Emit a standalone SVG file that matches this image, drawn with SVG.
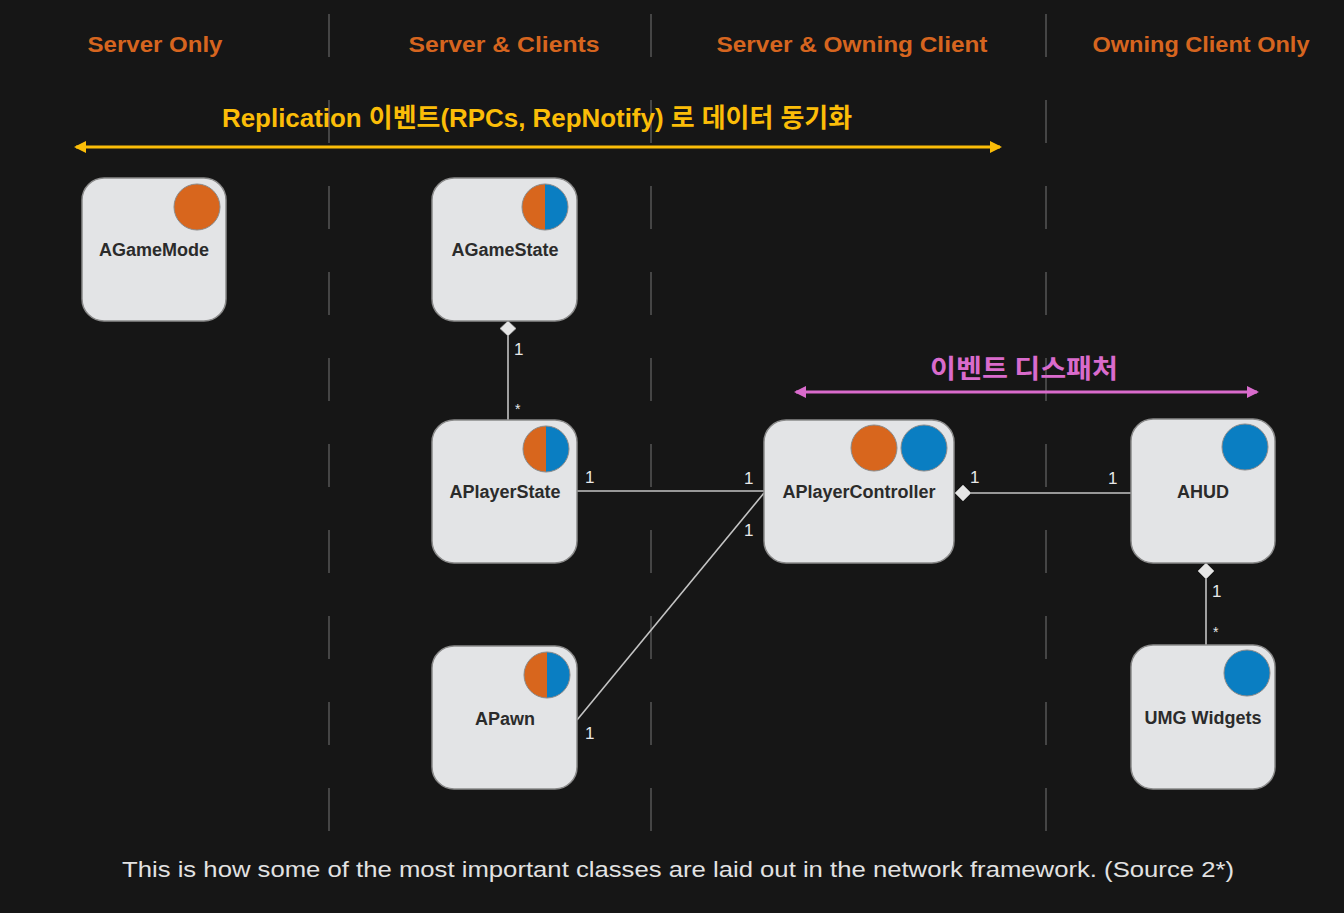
<svg xmlns="http://www.w3.org/2000/svg" width="1344" height="913" viewBox="0 0 1344 913">
<style>
.hdr{font-family:"Liberation Sans",Arial,sans-serif;font-size:22px;font-weight:bold;fill:#d6651f;text-anchor:middle}
.node rect{fill:#e3e4e6;stroke:#8a8a8a;stroke-width:1.5}
.name{font-family:"Liberation Sans",Arial,sans-serif;font-size:18px;font-weight:bold;fill:#2b2b2b;text-anchor:middle}
.conn{stroke:#c4c4c4;stroke-width:1.6;fill:none}
.mult{font-family:"Liberation Sans",Arial,sans-serif;font-size:17px;fill:#e8e8e8}
.star{font-family:"Liberation Sans",Arial,sans-serif;font-size:14px;fill:#e8e8e8}
.dia{fill:#e6e6e6;stroke:#b0b0b0;stroke-width:0.8}
.lane{stroke:#454545;stroke-width:2;stroke-dasharray:43 43}
.or{fill:#d8661d}
.bl{fill:#0a7ec2}
</style>
<defs>
<marker id="ay" viewBox="0 0 12 12" refX="10" refY="6" markerWidth="12" markerHeight="12" markerUnits="userSpaceOnUse" orient="auto-start-reverse"><path d="M0,0 L12,6 L0,12 Z" fill="#fbbd08"/></marker>
<marker id="ap" viewBox="0 0 12 12" refX="10" refY="6" markerWidth="12" markerHeight="12" markerUnits="userSpaceOnUse" orient="auto-start-reverse"><path d="M0,0 L12,6 L0,12 Z" fill="#d96bcc"/></marker>
</defs>
<rect width="1344" height="913" fill="#161616"/>
<g id="lanes">
<line class="lane" x1="329" y1="14" x2="329" y2="832"/>
<line class="lane" x1="651" y1="14" x2="651" y2="832"/>
<line class="lane" x1="1046" y1="14" x2="1046" y2="832"/>
</g>
<g id="headers">
<text class="hdr" x="155" y="52" textLength="135" lengthAdjust="spacingAndGlyphs">Server Only</text>
<text class="hdr" x="504" y="52" textLength="191" lengthAdjust="spacingAndGlyphs">Server &amp; Clients</text>
<text class="hdr" x="852" y="52" textLength="271" lengthAdjust="spacingAndGlyphs">Server &amp; Owning Client</text>
<text class="hdr" x="1201" y="52" textLength="217" lengthAdjust="spacingAndGlyphs">Owning Client Only</text>
</g>
<g id="replication">
<text x="537" y="127" font-family="'Liberation Sans','Noto Sans CJK KR',sans-serif" font-size="26" font-weight="bold" fill="#fbbd08" text-anchor="middle" textLength="630" lengthAdjust="spacingAndGlyphs">Replication 이벤트(RPCs, RepNotify) 로 데이터 동기화</text>
<line x1="76" y1="147" x2="1000" y2="147" stroke="#fbbd08" stroke-width="3" marker-start="url(#ay)" marker-end="url(#ay)"/>
</g>
<g id="dispatch">
<text x="1024" y="378" font-family="'Noto Sans CJK KR',sans-serif" font-size="26" font-weight="bold" fill="#d96bcc" text-anchor="middle" textLength="188" lengthAdjust="spacingAndGlyphs">이벤트 디스패처</text>
<line x1="796" y1="392" x2="1257" y2="392" stroke="#d96bcc" stroke-width="3" marker-start="url(#ap)" marker-end="url(#ap)"/>
</g>
<g id="connectors">
<line class="conn" x1="508" y1="336" x2="508" y2="420"/>
<path class="dia" d="M508,321 L516,328.5 L508,336 L500,328.5 Z"/>
<line class="conn" x1="577" y1="491" x2="764" y2="491"/>
<line class="conn" x1="577" y1="720" x2="764" y2="493"/>
<line class="conn" x1="971" y1="493" x2="1131" y2="493"/>
<path class="dia" d="M955,493 L963,485 L971,493 L963,501 Z"/>
<line class="conn" x1="1206" y1="579" x2="1206" y2="645"/>
<path class="dia" d="M1206,563 L1214,571 L1206,579 L1198,571 Z"/>
<text class="mult" x="514" y="355">1</text>
<text class="star" x="515" y="414">*</text>
<text class="mult" x="585" y="483">1</text>
<text class="mult" x="744" y="484">1</text>
<text class="mult" x="744" y="536">1</text>
<text class="mult" x="585" y="739">1</text>
<text class="mult" x="970" y="483">1</text>
<text class="mult" x="1108" y="484">1</text>
<text class="mult" x="1212" y="597">1</text>
<text class="star" x="1213" y="637">*</text>
</g>
<g id="AGameMode" class="node">
<rect x="82" y="178" width="144" height="143" rx="22"/>
<circle class="or" cx="197" cy="207" r="23" stroke="#8a8a8a" stroke-width="1"/>
<text class="name" x="154" y="256">AGameMode</text>
</g>
<g id="AGameState" class="node">
<rect x="432" y="178" width="145" height="143" rx="22"/>
<path class="or" d="M545,184 A23,23 0 0 0 545,230 Z"/>
<path class="bl" d="M545,184 A23,23 0 0 1 545,230 Z"/>
<circle cx="545" cy="207" r="23" fill="none" stroke="#8a8a8a" stroke-width="1"/>
<text class="name" x="505" y="256">AGameState</text>
</g>
<g id="APlayerState" class="node">
<rect x="432" y="420" width="145" height="143" rx="22"/>
<path class="or" d="M546,426 A23,23 0 0 0 546,472 Z"/>
<path class="bl" d="M546,426 A23,23 0 0 1 546,472 Z"/>
<circle cx="546" cy="449" r="23" fill="none" stroke="#8a8a8a" stroke-width="1"/>
<text class="name" x="505" y="498">APlayerState</text>
</g>
<g id="APawn" class="node">
<rect x="432" y="646" width="145" height="143" rx="22"/>
<path class="or" d="M547,652 A23,23 0 0 0 547,698 Z"/>
<path class="bl" d="M547,652 A23,23 0 0 1 547,698 Z"/>
<circle cx="547" cy="675" r="23" fill="none" stroke="#8a8a8a" stroke-width="1"/>
<text class="name" x="505" y="725">APawn</text>
</g>
<g id="APlayerController" class="node">
<rect x="764" y="420" width="190" height="143" rx="22"/>
<circle class="or" cx="874" cy="448" r="23" stroke="#8a8a8a" stroke-width="1"/>
<circle class="bl" cx="924" cy="448" r="23" stroke="#8a8a8a" stroke-width="1"/>
<text class="name" x="859" y="498">APlayerController</text>
</g>
<g id="AHUD" class="node">
<rect x="1131" y="419" width="144" height="144" rx="22"/>
<circle class="bl" cx="1245" cy="447" r="23" stroke="#8a8a8a" stroke-width="1"/>
<text class="name" x="1203" y="498">AHUD</text>
</g>
<g id="UMGWidgets" class="node">
<rect x="1131" y="645" width="144" height="144" rx="22"/>
<circle class="bl" cx="1247" cy="673" r="23" stroke="#8a8a8a" stroke-width="1"/>
<text class="name" x="1203" y="724">UMG Widgets</text>
</g>
<g id="caption">
<text x="678" y="877" font-family="'Liberation Sans',Arial,sans-serif" font-size="22" fill="#e2e2e2" text-anchor="middle" textLength="1112" lengthAdjust="spacingAndGlyphs">This is how some of the most important classes are laid out in the network framework. (Source 2*)</text>
</g>
</svg>
